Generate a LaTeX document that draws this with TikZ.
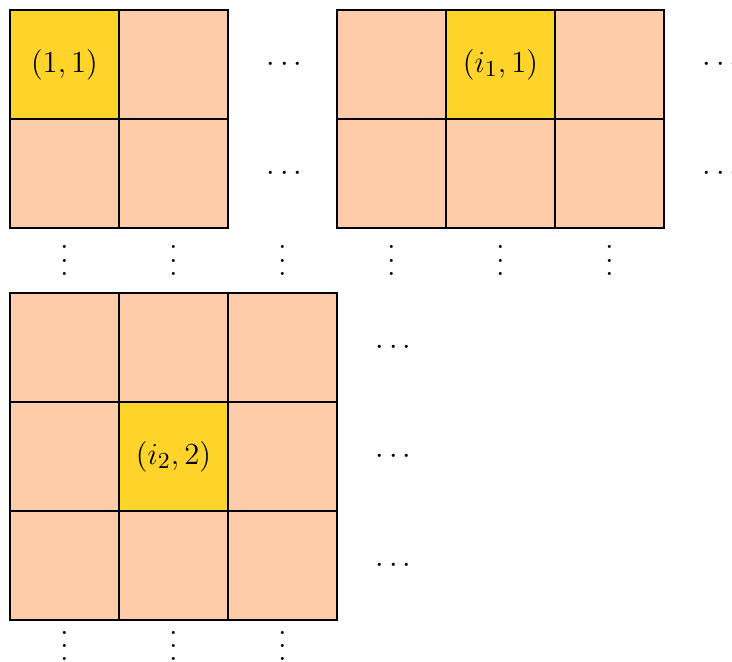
\documentclass[tikz,border=0pt]{standalone}
\usetikzlibrary{positioning}
\usepackage{amsmath}
\usepackage{xcolor}
\definecolor{cellpeach}{RGB}{255,204,170}
\definecolor{cellgold}{RGB}{255,212,42}
% vertical dots with the wider spacing of the drawing
\newcommand{\tallvdots}{\vbox{\baselineskip5.2pt\lineskiplimit0pt\hbox{.}\hbox{.}\hbox{.}}}
% horizontal dots, nudged to the middle of the gap
\newcommand{\rowdots}{$\kern3.5pt\cdots$}

\begin{document}
\begin{tikzpicture}[
        node distance=0cm,
        cell/.style={rectangle, draw=black, semithick, fill=cellpeach, minimum size=1.5cm, outer sep=0pt, inner sep=0pt, font=\fontsize{12.4}{15}\selectfont},
        hicell/.style={cell, fill=cellgold},
        dotcell/.style={rectangle, minimum size=1.5cm, outer sep=0pt, inner sep=0pt, font=\fontsize{12.4}{15}\selectfont},
        vgap/.style={rectangle, minimum width=1.5cm, minimum height=0.894cm, outer sep=0pt, inner sep=0pt, font=\fontsize{12.4}{15}\selectfont},
        endgap/.style={vgap, minimum height=0.716cm}
    ]

    \useasboundingbox (-0.8876,0.8876) rectangle (9.1858,-8.2224);

    % First row of blocks
    \node (a11) [hicell] at (0,0) {$(1,1)$};
    \node (a12) [cell, right=of a11] {};
    \node (h1) [dotcell, right=of a12] {\rowdots};
    \node (b11) [cell, right=of h1] {};
    \node (b12) [hicell, right=of b11] {$(i_1,1)$};
    \node (b13) [cell, right=of b12] {};
    \node (h2) [dotcell, right=of b13] {\rowdots};

    \node (a21) [cell, below=of a11] {};
    \node (a22) [cell, right=of a21] {};
    \node (h3) [dotcell, right=of a22] {\rowdots};
    \node (b21) [cell, right=of h3] {};
    \node (b22) [cell, right=of b21] {};
    \node (b23) [cell, right=of b22] {};
    \node (h4) [dotcell, right=of b23] {\rowdots};

    % Vertical dots between the rows
    \node (v1) [vgap, below=of a21] {\tallvdots};
    \node (v2) [vgap, below=of a22] {\tallvdots};
    \node (v3) [vgap, below=of h3] {\tallvdots};
    \node (v4) [vgap, below=of b21] {\tallvdots};
    \node (v5) [vgap, below=of b22] {\tallvdots};
    \node (v6) [vgap, below=of b23] {\tallvdots};

    % Second row: the 3x3 block
    \node (c11) [cell, below=of v1] {};
    \node (c12) [cell, right=of c11] {};
    \node (c13) [cell, right=of c12] {};
    \node (h5) [dotcell, right=of c13] {\rowdots};

    \node (c21) [cell, below=of c11] {};
    \node (c22) [hicell, right=of c21] {$(i_2,2)$};
    \node (c23) [cell, right=of c22] {};
    \node (h6) [dotcell, right=of c23] {\rowdots};

    \node (c31) [cell, below=of c21] {};
    \node (c32) [cell, right=of c31] {};
    \node (c33) [cell, right=of c32] {};
    \node (h7) [dotcell, right=of c33] {\rowdots};

    \node (w1) [endgap, below=of c31] {\tallvdots};
    \node (w2) [endgap, below=of c32] {\tallvdots};
    \node (w3) [endgap, below=of c33] {\tallvdots};

    \end{tikzpicture}
\end{document}
